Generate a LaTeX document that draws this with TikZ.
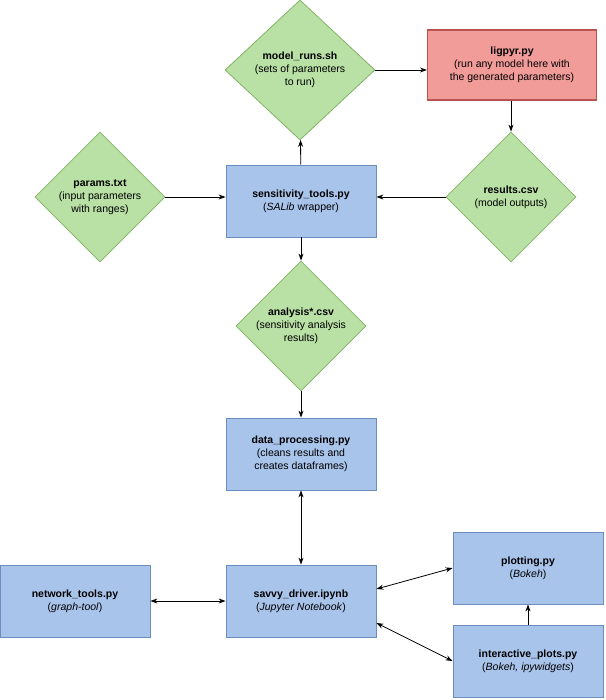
\documentclass[tikz,border=0pt]{standalone}
\usepackage{fontspec}
\setmainfont{Liberation Sans}
\usetikzlibrary{shapes.geometric,arrows.meta}
\definecolor{gf}{HTML}{B9E0A5}\definecolor{gb}{HTML}{82B366}
\definecolor{bf}{HTML}{A9C4EB}\definecolor{bb}{HTML}{6C8EBF}
\definecolor{rf}{HTML}{F19C99}\definecolor{rb}{HTML}{B85450}
\begin{document}
\begin{tikzpicture}[x=1pt,y=-1pt,font=\fontsize{10.5}{13}\selectfont,
 dia/.style={diamond,draw=gb,fill=gf,line width=0.8pt,minimum width=#1,minimum height=#1,aspect=1,inner sep=0pt,align=center},
 box/.style={draw=bb,fill=bf,line width=0.8pt,minimum width=150,minimum height=72,align=center,inner sep=1pt},
 a/.style={-{Stealth[length=7pt,width=5pt]},line width=0.8pt},
 aa/.style={{Stealth[length=7pt,width=5pt]}-{Stealth[length=7pt,width=5pt]},line width=0.8pt}]
\useasboundingbox (0,0) rectangle (605,700);
\node[dia=140,minimum width=150] (mr) at (300,70) {\textbf{model\_runs.sh}\\(sets of parameters\\to run)};
\node[box,draw=rb,fill=rf,minimum width=169,minimum height=70,line width=1.2pt] (lig) at (512,65) {\textbf{ligpyr.py}\\(run any model here with\\the generated parameters)};
\node[dia=130] (par) at (100,197) {\textbf{params.txt}\\(input parameters\\with ranges)};
\node[box] (sens) at (301,201) {\textbf{sensitivity\_tools.py}\\(\textit{SALib} wrapper)};
\node[dia=130] (res) at (511,197) {\textbf{results.csv}\\(model outputs)};
\node[dia=130] (ana) at (301,326) {\textbf{analysis*.csv}\\(sensitivity analysis\\results)};
\node[box] (dp) at (301,454) {\textbf{data\_processing.py}\\(cleans results and\\creates dataframes)};
\node[box] (sav) at (301,601) {\textbf{savvy\_driver.ipynb}\\(\textit{Jupyter Notebook})};
\node[box] (net) at (75,601) {\textbf{network\_tools.py}\\(\textit{graph-tool})};
\node[box] (plt) at (528,568) {\textbf{plotting.py}\\(\textit{Bokeh})};
\node[box] (int) at (528,661) {\textbf{interactive\_plots.py}\\(\textit{Bokeh, ipywidgets})};
\draw[a] (sens) -- (mr);
\draw[a] (mr) -- (lig.west|-mr);
\draw[a] (lig.south-|res) -- (res);
\draw[a] (res) -- (sens.east|-res);
\draw[a] (par) -- (sens.west|-par);
\draw[a] (sens) -- (ana);
\draw[a] (ana) -- (dp);
\draw[aa] (dp) -- (sav);
\draw[aa] (net) -- (sav);
\draw[aa] (sav.east) ++(0,-12) -- (plt.west);
\draw[aa] (sav.east) ++(0,22) -- (int.west);
\draw[a] (int) -- (plt);
\end{tikzpicture}
\end{document}
